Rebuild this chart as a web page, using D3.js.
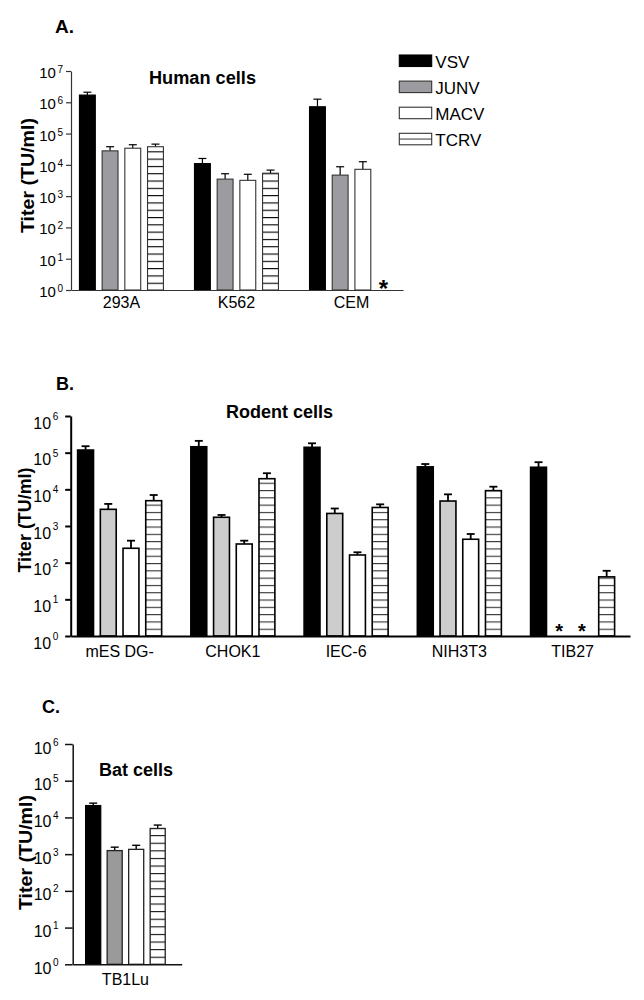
<!DOCTYPE html>
<html><head><meta charset="utf-8">
<script src="https://cdn.jsdelivr.net/npm/d3@7"></script>
<style>
body{margin:0;background:#fff}
svg{display:block}
text{font-family:"Liberation Sans", Arial, Helvetica, sans-serif;fill:#000}
</style>
</head><body>
<svg id="chart" width="644" height="1000"></svg>
<script>
// ---------------- DATA ----------------
const seriesNames = ["VSV", "JUNV", "MACV", "TCRV"];

const humanCells   = ["293A", "K562", "CEM"];
const humanVSV     = [1.7e6, 1.1e4, 7.2e5];
const humanJUNV    = [2.8e4, 3.5e3, 4.7e3];
const humanMACV    = [3.4e4, 3.2e3, 7.2e3];
const humanTCRV    = [3.8e4, 5.4e3, null];
const humanVSVErr  = [2.1e6, 1.6e4, 1.26e6];
const humanJUNVErr = [3.8e4, 5.2e3, 8.7e3];
const humanMACVErr = [4.4e4, 5.0e3, 1.26e4];
const humanTCRVErr = [4.6e4, 6.8e3, null];

const rodentCells   = ["mES DG-", "CHOK1", "IEC-6", "NIH3T3", "TIB27"];
const rodentVSV     = [1.18e5, 1.45e5, 1.4e5, 4.1e4, 4.0e4];
const rodentJUNV    = [2.85e3, 1.73e3, 2.2e3, 4.8e3, null];
const rodentMACV    = [247, 323, 162, 435, null];
const rodentTCRV    = [4.9e3, 1.95e4, 3.2e3, 9.2e3, 41];
const rodentVSVErr  = [1.5e5, 2.1e5, 1.8e5, 4.9e4, 5.5e4];
const rodentJUNVErr = [4.0e3, 2.0e3, 3.0e3, 7.3e3, null];
const rodentMACVErr = [398, 398, 192, 605, null];
const rodentTCRVErr = [7.0e3, 2.75e4, 3.9e3, 1.18e4, 60];

const batCells   = ["TB1Lu"];
const batVSV     = [2.1e4];
const batJUNV    = [1.25e3];
const batMACV    = [1.35e3];
const batTCRV    = [5.0e3];
const batVSVErr  = [2.45e4];
const batJUNVErr = [1.55e3];
const batMACVErr = [1.74e3];
const batTCRVErr = [6.2e3];

const humanTickExps  = [0, 1, 2, 3, 4, 5, 6, 7];
const rodentTickExps = [0, 1, 2, 3, 4, 5, 6];
const batTickExps    = [0, 1, 2, 3, 4, 5, 6];

const panelLetters = ["A.", "B.", "C."];
const panelTitles  = ["Human cells", "Rodent cells", "Bat cells"];
const yAxisTitle   = "Titer (TU/ml)";
const missingMark  = "*";

// ---------------- DRAW ----------------
const svg = d3.select("#chart");
const defs = svg.append("defs");

function drawPanel(cfg) {
  const g = svg.append("g");
  const x0 = d3.scaleBand().domain(cfg.cats).range([cfg.xl, cfg.xr])
    .paddingInner(cfg.pi).paddingOuter(cfg.po).align(cfg.align);
  const x1 = d3.scaleBand().domain(seriesNames).range([0, x0.bandwidth()]).paddingInner(0.3);
  const y = d3.scaleLog().domain([1, Math.pow(10, cfg.maxExp)]).range([cfg.yb, cfg.yt]);

  // stripe pattern
  const pid = "stripes" + cfg.id;
  const pat = defs.append("pattern").attr("id", pid).attr("patternUnits", "userSpaceOnUse")
    .attr("width", 20).attr("height", cfg.stripe)
    .attr("patternTransform", `translate(0,${cfg.yb})`);
  pat.append("rect").attr("width", 20).attr("height", cfg.stripe).attr("fill", "#fff");
  pat.append("rect").attr("y", 0).attr("width", 20).attr("height", 1.1).attr("fill", cfg.stripeColor);

  const fills = ["#000", cfg.junv, "#fff", `url(#${pid})`];
  const strokes = ["#000", cfg.barStroke, cfg.barStroke, cfg.barStroke];

  seriesNames.forEach((s, i) => {
    const vals = cfg.values[i], errs = cfg.errs[i];
    cfg.cats.forEach((c, j) => {
      const v = vals[j];
      const bx = x0(c) + x1(s);
      const cx = bx + x1.bandwidth() / 2;
      if (v == null) {
        g.append("text").attr("x", cx - 2).attr("y", cfg.yb + cfg.starDy)
          .attr("text-anchor", "middle").style("font-size", cfg.starSize + "px")
          .style("font-weight", "bold").text(missingMark);
        return;
      }
      const ye = y(errs[j]);
      g.append("line").attr("x1", cx).attr("x2", cx).attr("y1", y(v)).attr("y2", ye)
        .attr("stroke", "#000").attr("stroke-width", cfg.errW);
      g.append("line").attr("x1", cx - 4).attr("x2", cx + 4).attr("y1", ye).attr("y2", ye)
        .attr("stroke", "#000").attr("stroke-width", cfg.errW);
      g.append("rect").attr("x", bx).attr("y", y(v))
        .attr("width", x1.bandwidth()).attr("height", cfg.yb - y(v))
        .attr("fill", fills[i]).attr("stroke", strokes[i]).attr("stroke-width", cfg.barW);
    });
  });

  // y axis
  const ya = d3.axisLeft(y).tickValues(cfg.ticks.map(e => Math.pow(10, e)))
    .tickSize(cfg.tickLen).tickSizeOuter(0).tickPadding(cfg.tickPad).tickFormat(() => "10");
  const yg = g.append("g").attr("transform", `translate(${cfg.xl},0)`).call(ya);
  yg.select(".domain").attr("stroke", cfg.axisColor).attr("stroke-width", cfg.axisW);
  yg.selectAll(".tick line").attr("stroke", cfg.axisColor).attr("stroke-width", cfg.axisW);
  yg.selectAll(".tick text").each(function(d, k) {
    const t = d3.select(this);
    t.attr("dy", null).attr("y", cfg.labBase).style("font-size", cfg.tickFont + "px")
      .style("font-family", '"Liberation Sans", Arial, sans-serif').attr("fill", "#000");
    t.append("tspan").attr("dx", 1.5).attr("dy", cfg.supDy)
      .style("font-size", cfg.supFont + "px").text(cfg.ticks[k]);
  });

  // x axis
  const xa = d3.axisBottom(x0).tickSize(0).tickSizeOuter(0).tickPadding(cfg.catPad);
  const xg = g.append("g").attr("transform", `translate(0,${cfg.yb})`).call(xa);
  xg.select(".domain").attr("stroke", cfg.axisColor).attr("stroke-width", cfg.axisW);
  xg.selectAll(".tick text").style("font-size", cfg.catFont + "px")
    .style("font-family", '"Liberation Sans", Arial, sans-serif').attr("fill", "#000");

  // titles
  g.append("text").attr("x", cfg.letter[0]).attr("y", cfg.letter[1])
    .style("font-size", "18px").style("font-weight", "bold")
    .attr("textLength", cfg.letter[2]).attr("lengthAdjust", "spacingAndGlyphs").text(cfg.letterText);
  g.append("text").attr("x", cfg.title[0]).attr("y", cfg.title[1]).attr("text-anchor", "middle")
    .style("font-size", cfg.title[3] + "px").style("font-weight", "bold")
    .attr("textLength", cfg.title[2]).attr("lengthAdjust", "spacingAndGlyphs").text(cfg.titleText);
  g.append("text").attr("transform", `translate(${cfg.ylab[0]},${cfg.ylab[1]}) rotate(-90)`)
    .attr("text-anchor", "middle").style("font-size", cfg.ylab[3] + "px").style("font-weight", "bold")
    .attr("textLength", cfg.ylab[2]).attr("lengthAdjust", "spacingAndGlyphs").text(yAxisTitle);
  return {x0, x1, y};
}

drawPanel({
  id: "A", cats: humanCells, maxExp: 7, ticks: humanTickExps,
  values: [humanVSV, humanJUNV, humanMACV, humanTCRV],
  errs: [humanVSVErr, humanJUNVErr, humanMACVErr, humanTCRVErr],
  xl: 71, xr: 403, pi: 0.27, po: 0.078, align: 0.47, yb: 290, yt: 71,
  junv: "#9c9ca0", barStroke: "#333", barW: 1.1, errW: 1.2, axisColor: "#333", axisW: 1.2,
  stripe: 7.3, stripeColor: "#000",
  tickLen: 5, tickPad: 3, tickFont: 15, supFont: 10, labBase: 6.5, supDy: -5,
  catPad: 7, catFont: 16, starSize: 24, starDy: 7,
  letter: [55, 33.3, 19], letterText: panelLetters[0],
  title: [202.5, 83.5, 107, 17.5], titleText: panelTitles[0],
  ylab: [33.5, 175.5, 115, 19]
});

drawPanel({
  id: "B", cats: rodentCells, maxExp: 6, ticks: rodentTickExps,
  values: [rodentVSV, rodentJUNV, rodentMACV, rodentTCRV],
  errs: [rodentVSVErr, rodentJUNVErr, rodentMACVErr, rodentTCRVErr],
  xl: 70.7, xr: 630, pi: 0.258, po: 0.0985, align: 0.31, yb: 636, yt: 416,
  junv: "#cdcdcd", barStroke: "#000", barW: 1.6, errW: 1.8, axisColor: "#000", axisW: 2,
  stripe: 7.3, stripeColor: "#333",
  tickLen: 5.5, tickPad: 7, tickFont: 16, supFont: 10, labBase: 12, supDy: -8.5,
  catPad: 10, catFont: 16, starSize: 20, starDy: 1.5,
  letter: [56, 390, 18], letterText: panelLetters[1],
  title: [279.5, 418.3, 107, 17.5], titleText: panelTitles[1],
  ylab: [31, 520, 105, 18]
});

drawPanel({
  id: "C", cats: batCells, maxExp: 6, ticks: batTickExps,
  values: [batVSV, batJUNV, batMACV, batTCRV],
  errs: [batVSVErr, batJUNVErr, batMACVErr, batTCRVErr],
  xl: 72.7, xr: 181.7, pi: 0.27, po: 0.103, align: 0.44, yb: 964.3, yt: 744,
  junv: "#9a9a9a", barStroke: "#222", barW: 1.3, errW: 1.4, axisColor: "#111", axisW: 1.5,
  stripe: 7.6, stripeColor: "#111",
  tickLen: 7.7, tickPad: 6.5, tickFont: 16, supFont: 10, labBase: 9, supDy: -8,
  catPad: 9, catFont: 16, starSize: 20, starDy: 1.5,
  letter: [42, 713.3, 18], letterText: panelLetters[2],
  title: [136, 775.7, 74, 17.5], titleText: panelTitles[2],
  ylab: [31.5, 852.5, 115, 19]
});

// legend
const legFills = ["#000", "#9c9ca0", "#fff", "#fff"];
const leg = svg.append("g").attr("transform", "translate(399.3,55)");
seriesNames.forEach((s, i) => {
  const gy = i * 26.1;
  leg.append("rect").attr("x", 0).attr("y", gy).attr("width", 32.4).attr("height", 11.5)
    .attr("fill", legFills[i]).attr("stroke", i === 0 ? "#000" : "#333").attr("stroke-width", 1.1);
  if (i === 3) {
    leg.append("line").attr("x1", 0).attr("x2", 32.4).attr("y1", gy + 5.75).attr("y2", gy + 5.75)
      .attr("stroke", "#333").attr("stroke-width", 1);
  }
  leg.append("text").attr("x", 36).attr("y", gy + 12.8).style("font-size", "17px").text(s);
});
</script>
</body></html>
